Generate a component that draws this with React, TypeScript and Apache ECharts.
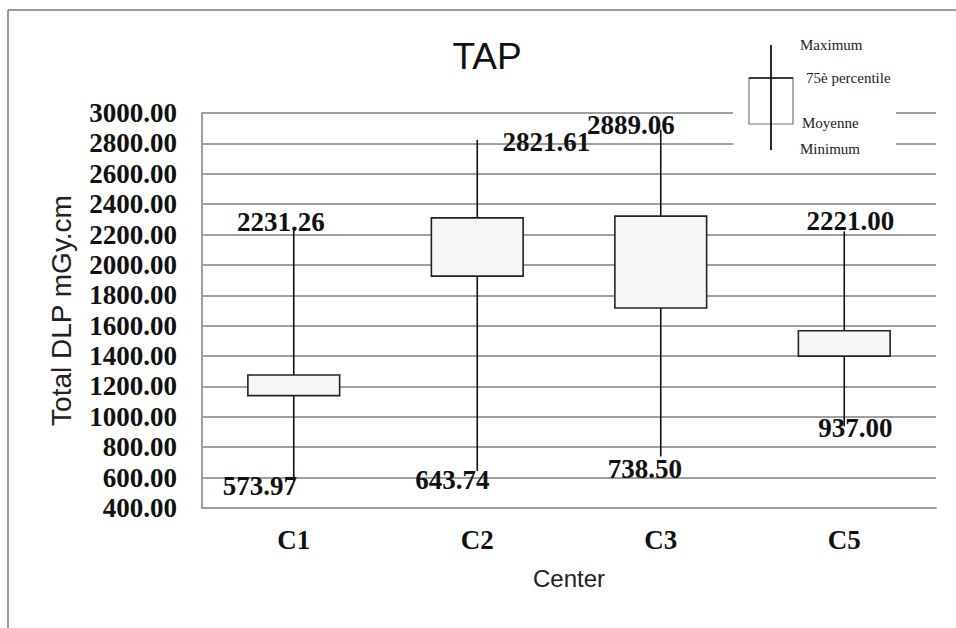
import React, { useEffect, useRef } from "react";
import * as echarts from "echarts";

const categories = ["C1", "C2", "C3", "C5"];
const minValues = [573.97, 643.74, 738.5, 937.0];
const meanValues = [1140, 1926, 1716, 1400]; // box bottom (Moyenne)
const p75Values = [1275, 2310, 2321, 1567]; // box top (75è percentile)
const maxValues = [2231.26, 2821.61, 2889.06, 2221.0];

const yMin = 400;
const yMax = 3000;
const yInterval = 200;

// label placement relative to whisker ends (pixels)
const maxLabelOffsets = [[-13, -8], [69, 2], [-30, -5], [6, -10]];
const minLabelOffsets = [[-34, 4], [-25, 9], [-16, 12], [11, 2]];

const numFont = 'bold 27px "Liberation Serif", "Times New Roman", serif';
const legendFont = '15px "Liberation Serif", "Times New Roman", serif';

export default function App() {
  const ref = useRef<HTMLDivElement>(null);

  useEffect(() => {
    if (!ref.current) return;
    const chart = echarts.init(ref.current, undefined, { renderer: "svg" });

    const data = categories.map((c, i) => [i, minValues[i], meanValues[i], p75Values[i], maxValues[i]]);

    chart.setOption({
      animation: false,
      backgroundColor: "#ffffff",
      grid: { left: 202, right: 20, top: 113, bottom: 120, containLabel: false },
      xAxis: {
        type: "category",
        data: categories,
        axisLine: { show: true, lineStyle: { color: "#a0a0a0", width: 2 } },
        axisTick: { show: false },
        axisLabel: {
          fontFamily: '"Liberation Serif", "Times New Roman", serif',
          fontWeight: "bold",
          fontSize: 27,
          color: "#111",
          margin: 18,
        },
        splitLine: { show: false },
        name: "Center",
        nameLocation: "middle",
        nameGap: 58,
        nameTextStyle: { fontFamily: '"Liberation Sans", Arial, sans-serif', fontSize: 24, color: "#222" },
      },
      yAxis: {
        type: "value",
        min: yMin,
        max: yMax,
        interval: yInterval,
        axisLine: { show: true, lineStyle: { color: "#a0a0a0", width: 2 } },
        axisTick: { show: false },
        axisLabel: {
          formatter: (v: number) => v.toFixed(2),
          fontFamily: '"Liberation Serif", "Times New Roman", serif',
          fontWeight: "bold",
          fontSize: 27,
          color: "#111",
          margin: 25,
        },
        splitLine: { show: true, lineStyle: { color: "#a0a0a0", width: 2 } },
        name: "Total DLP mGy.cm",
        nameLocation: "middle",
        nameGap: 127,
        nameTextStyle: { fontFamily: '"Liberation Sans", Arial, sans-serif', fontSize: 28, color: "#222" },
      },
      series: [
        {
          type: "custom",
          data,
          clip: false,
          renderItem: (params: any, api: any) => {
            const idx = params.dataIndex;
            const i = api.value(0);
            const pMin = api.coord([i, api.value(1)]);
            const pLow = api.coord([i, api.value(2)]);
            const pHigh = api.coord([i, api.value(3)]);
            const pMax = api.coord([i, api.value(4)]);
            const bw = api.size([1, 0])[0] * 0.5;
            return {
              type: "group",
              children: [
                {
                  type: "line",
                  shape: { x1: pMax[0], y1: pMax[1], x2: pMin[0], y2: pMin[1] },
                  style: { stroke: "#111", lineWidth: 1.6 },
                },
                {
                  type: "rect",
                  shape: { x: pHigh[0] - bw / 2, y: pHigh[1], width: bw, height: pLow[1] - pHigh[1] },
                  style: { fill: "#f7f7f7", stroke: "#222", lineWidth: 1.6 },
                },
                {
                  type: "text",
                  x: pMax[0] + maxLabelOffsets[idx][0],
                  y: pMax[1] + maxLabelOffsets[idx][1],
                  style: {
                    text: maxValues[idx].toFixed(2),
                    font: numFont,
                    fill: "#111",
                    align: "center",
                    verticalAlign: "middle",
                  },
                },
                {
                  type: "text",
                  x: pMin[0] + minLabelOffsets[idx][0],
                  y: pMin[1] + minLabelOffsets[idx][1],
                  style: {
                    text: minValues[idx].toFixed(2),
                    font: numFont,
                    fill: "#111",
                    align: "center",
                    verticalAlign: "middle",
                  },
                },
              ],
            };
          },
        },
      ],
      graphic: [
        { type: "line", z: 100, shape: { x1: 8, y1: 10, x2: 956, y2: 10 }, style: { stroke: "#9a9a9a", lineWidth: 2 } },
        { type: "line", z: 100, shape: { x1: 8, y1: 10, x2: 8, y2: 628 }, style: { stroke: "#9a9a9a", lineWidth: 2 } },
        {
          type: "text",
          z: 100,
          x: 487,
          y: 56,
          style: {
            text: "TAP",
            font: '37px "Liberation Sans", Arial, sans-serif',
            fill: "#111",
            align: "center",
            verticalAlign: "middle",
          },
        },
        { type: "rect", z: 100, shape: { x: 733, y: 33, width: 163, height: 127 }, style: { fill: "#ffffff" } },
        {
          type: "rect",
          z: 101,
          shape: { x: 749, y: 78, width: 44, height: 46 },
          style: { fill: "#ffffff", stroke: "#777", lineWidth: 1.2 },
        },
        { type: "line", z: 102, shape: { x1: 749, y1: 78, x2: 793, y2: 78 }, style: { stroke: "#111", lineWidth: 1.5 } },
        { type: "line", z: 102, shape: { x1: 771, y1: 45, x2: 771, y2: 150 }, style: { stroke: "#111", lineWidth: 1.8 } },
        {
          type: "text", z: 102, x: 800, y: 45,
          style: { text: "Maximum", font: legendFont, fill: "#222", align: "left", verticalAlign: "middle" },
        },
        {
          type: "text", z: 102, x: 806, y: 78,
          style: { text: "75è percentile", font: legendFont, fill: "#222", align: "left", verticalAlign: "middle" },
        },
        {
          type: "text", z: 102, x: 802, y: 123,
          style: { text: "Moyenne", font: legendFont, fill: "#222", align: "left", verticalAlign: "middle" },
        },
        {
          type: "text", z: 102, x: 800, y: 149,
          style: { text: "Minimum", font: legendFont, fill: "#222", align: "left", verticalAlign: "middle" },
        },
      ],
    });

    return () => chart.dispose();
  }, []);

  return (
    <div
      ref={ref}
      style={{ position: "fixed", left: 0, top: 0, width: 956, height: 628, background: "#ffffff" }}
    />
  );
}
